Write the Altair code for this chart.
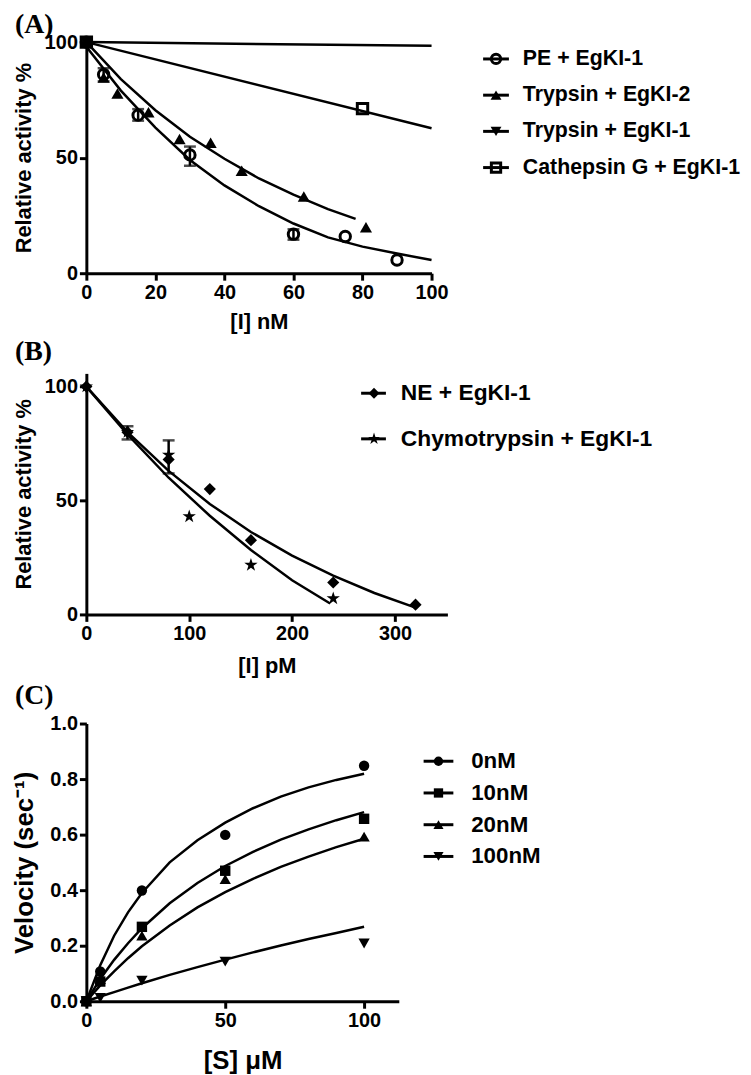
import altair as alt
import pandas as pd

SANS = "Liberation Sans"
SERIF = "Liberation Serif"
STAR = ("M0,-1L0.2245,-0.309L0.951,-0.309L0.363,0.118L0.588,0.809L0,0.382"
        "L-0.588,0.809L-0.363,0.118L-0.951,-0.309L-0.2245,-0.309Z")

# ---------------- Panel A data ----------------
A_LABELS = ["PE + EgKI-1", "Trypsin + EgKI-2", "Trypsin + EgKI-1", "Cathepsin G + EgKI-1"]
A_PE_X = [0, 5, 15, 30, 60, 75, 90]
A_PE_Y = [100, 86, 68.4, 51.2, 16.9, 15.9, 5.7]
A_T2_X = [0, 5, 9, 18, 27, 36, 45, 63, 81]
A_T2_Y = [100, 84.7, 77.8, 69.6, 58.1, 56.4, 44.3, 33.2, 19.9]
A_T1_X = [0]
A_T1_Y = [100]
A_CG_X = [0, 80]
A_CG_Y = [100, 71.2]
A_PE_FIT_X = [0, 10, 20, 30, 40, 50, 60, 70, 80, 90, 100]
A_PE_FIT_Y = [98, 79, 63, 49, 38, 29, 21.5, 15.5, 11.5, 8.5, 5.7]
A_T2_FIT_X = [0, 10, 20, 30, 40, 50, 60, 70, 78]
A_T2_FIT_Y = [100, 84, 70.5, 59, 49.5, 41, 34, 27.7, 23.5]
A_T1_FIT_X = [0, 100]
A_T1_FIT_Y = [100, 98.4]
A_CG_FIT_X = [0, 100]
A_CG_FIT_Y = [100, 62.7]
A_ERR_X = [5, 15, 30, 60]
A_ERR_LO = [83, 66, 46.5, 14.5]
A_ERR_HI = [88.7, 71, 54.8, 19]

# ---------------- Panel B data ----------------
B_LABELS = ["NE + EgKI-1", "Chymotrypsin + EgKI-1"]
B_NE_X = [0, 40, 80, 120, 160, 240, 320]
B_NE_Y = [100, 80, 68, 55, 32.6, 14, 4.3]
B_CH_X = [0, 40, 80, 100, 160, 240]
B_CH_Y = [100, 80, 70, 43, 21.7, 7]
B_NE_FIT_X = [0, 40, 80, 120, 160, 200, 240, 280, 320]
B_NE_FIT_Y = [100, 80, 63, 48.5, 36.2, 25.8, 17, 9.4, 3]
B_CH_FIT_X = [0, 40, 80, 120, 160, 200, 237]
B_CH_FIT_Y = [100, 79, 60, 43.3, 28.3, 15, 4.8]
B_ERR_X = [40, 80]
B_ERR_LO = [76.8, 61.9]
B_ERR_HI = [82.6, 76.4]

# ---------------- Panel C data ----------------
C_LABELS = ["0nM", "10nM", "20nM", "100nM"]
C_S = [0, 5, 20, 50, 100]
C_V0 = [0, 0.107, 0.399, 0.599, 0.848]
C_V10 = [0, 0.071, 0.268, 0.470, 0.657]
C_V20 = [0, 0.080, 0.236, 0.440, 0.593]
C_V100 = [0, 0.012, 0.074, 0.143, 0.208]
C_FIT_S = [0, 5, 10, 15, 20, 30, 40, 50, 60, 70, 80, 90, 100]
C_FIT0 = [0, 0.13, 0.236, 0.32, 0.39, 0.50, 0.58, 0.643, 0.695, 0.737, 0.77, 0.797, 0.819]
C_FIT10 = [0, 0.080, 0.149, 0.209, 0.263, 0.353, 0.426, 0.487, 0.538, 0.582, 0.619, 0.652, 0.681]
C_FIT20 = [0, 0.057, 0.108, 0.155, 0.198, 0.273, 0.338, 0.393, 0.441, 0.484, 0.521, 0.555, 0.585]
C_FIT100 = [0, 0.017, 0.033, 0.049, 0.065, 0.095, 0.123, 0.150, 0.176, 0.201, 0.224, 0.246, 0.268]


def axis_props(values, title, tpad, tsize, fmt=None):
    kw = dict(values=values, title=title, titlePadding=tpad, titleFontSize=tsize,
              grid=False, domainColor="black", domainWidth=3, tickColor="black",
              tickWidth=3, tickSize=7, labelFont=SANS, labelFontSize=20,
              labelFontWeight="bold", labelColor="black", labelPadding=2,
              titleFont=SANS, titleFontWeight="bold", titleColor="black",
              labelFlush=False, labelOverlap=False)
    if fmt:
        kw["format"] = fmt
    return alt.Axis(**kw)


def panel(series, err, xdom, ydom, xticks, yticks, w, h, xtitle, ytitle,
          tag, tag_dx, tag_off, xpad, ypad, xtsize, ytsize, leg, yfmt=None):
    xs = alt.Scale(domain=xdom, nice=False, zero=False)
    ys = alt.Scale(domain=ydom, nice=False, zero=False)
    xax = axis_props(xticks, xtitle, xpad, xtsize)
    yax = axis_props(yticks, ytitle, ypad, ytsize, yfmt)
    fit_df = pd.concat([pd.DataFrame({"x": s["fx"], "y": s["fy"], "s": s["label"]})
                        for s in series])
    layers = [alt.Chart(fit_df).mark_line(color="black", strokeWidth=2.5).encode(
        x=alt.X("x:Q", scale=xs, axis=xax),
        y=alt.Y("y:Q", scale=ys, axis=yax),
        detail="s:N")]
    if err is not None:
        edf = pd.DataFrame({"x": err[0], "lo": err[1], "hi": err[2]})
        layers.append(alt.Chart(edf).mark_rule(color="black", strokeWidth=2.5).encode(
            x=alt.X("x:Q", scale=xs), y=alt.Y("lo:Q", scale=ys), y2="hi:Q"))
        cdf = pd.DataFrame({"x": err[0] + err[0], "y": err[1] + err[2]})
        layers.append(alt.Chart(cdf).mark_tick(orient="horizontal", color="black",
                                               thickness=2.5, size=12).encode(
            x=alt.X("x:Q", scale=xs), y=alt.Y("y:Q", scale=ys)))
    for s in series:
        pdf = pd.DataFrame({"x": s["px"], "y": s["py"]})
        layers.append(alt.Chart(pdf).mark_point(
            shape=s["shape"], filled=s["filled"], size=s["size"], color="black",
            strokeWidth=3 if not s["filled"] else 1, opacity=1).encode(
            x=alt.X("x:Q", scale=xs), y=alt.Y("y:Q", scale=ys)))
    # legend
    for i, s in enumerate(series):
        yy = leg["y0"] + i * leg["step"]
        d = pd.DataFrame({"label": [s["label"]]})
        layers.append(alt.Chart(d).mark_rule(color="black", strokeWidth=3).encode(
            x=alt.value(leg["x0"]), x2=alt.value(leg["x1"]), y=alt.value(yy)))
        layers.append(alt.Chart(d).mark_point(
            shape=s["shape"], filled=s["filled"], size=s["size"] * 0.8, color="black",
            strokeWidth=3 if not s["filled"] else 1, opacity=1).encode(
            x=alt.value(leg["xm"]), y=alt.value(yy)))
        layers.append(alt.Chart(d).mark_text(
            align="left", baseline="middle", font=SANS, fontSize=leg["fs"],
            fontWeight="bold", color="black").encode(
            x=alt.value(leg["xt"]), y=alt.value(yy), text="label:N"))
    return alt.layer(*layers).properties(
        width=w, height=h,
        title=alt.TitleParams(text=tag, anchor="start", frame="group", dx=tag_dx,
                              offset=tag_off, font=SERIF, fontSize=28,
                              fontWeight="bold", color="black"))


seriesA = [
    dict(label=A_LABELS[0], px=A_PE_X, py=A_PE_Y, fx=A_PE_FIT_X, fy=A_PE_FIT_Y,
         shape="circle", filled=False, size=110),
    dict(label=A_LABELS[1], px=A_T2_X, py=A_T2_Y, fx=A_T2_FIT_X, fy=A_T2_FIT_Y,
         shape="triangle-up", filled=True, size=150),
    dict(label=A_LABELS[2], px=A_T1_X, py=A_T1_Y, fx=A_T1_FIT_X, fy=A_T1_FIT_Y,
         shape="triangle-down", filled=True, size=150),
    dict(label=A_LABELS[3], px=A_CG_X, py=A_CG_Y, fx=A_CG_FIT_X, fy=A_CG_FIT_Y,
         shape="square", filled=False, size=110),
]
seriesB = [
    dict(label=B_LABELS[0], px=B_NE_X, py=B_NE_Y, fx=B_NE_FIT_X, fy=B_NE_FIT_Y,
         shape="diamond", filled=True, size=150),
    dict(label=B_LABELS[1], px=B_CH_X, py=B_CH_Y, fx=B_CH_FIT_X, fy=B_CH_FIT_Y,
         shape=STAR, filled=True, size=200),
]
seriesC = [
    dict(label=C_LABELS[0], px=C_S, py=C_V0, fx=C_FIT_S, fy=C_FIT0,
         shape="circle", filled=True, size=110),
    dict(label=C_LABELS[1], px=C_S, py=C_V10, fx=C_FIT_S, fy=C_FIT10,
         shape="square", filled=True, size=110),
    dict(label=C_LABELS[2], px=C_S, py=C_V20, fx=C_FIT_S, fy=C_FIT20,
         shape="triangle-up", filled=True, size=130),
    dict(label=C_LABELS[3], px=C_S, py=C_V100, fx=C_FIT_S, fy=C_FIT100,
         shape="triangle-down", filled=True, size=130),
]

chartA = panel(seriesA, (A_ERR_X, A_ERR_LO, A_ERR_HI), [0, 100], [0, 100],
               [0, 20, 40, 60, 80, 100], [0, 50, 100], 348, 233,
               "[I] nM", "Relative activity %", "(A)", -72, -8, 10, 9, 22, 22,
               dict(y0=17, step=36.5, x0=400, x1=426, xm=413, xt=440, fs=21.5))
chartB = panel(seriesB, (B_ERR_X, B_ERR_LO, B_ERR_HI), [0, 351], [0, 105.8],
               [0, 100, 200, 300], [0, 50, 100], 364, 243,
               "[I] pM", "Relative activity %", "(B)", -72, 8, 13, 9, 22, 22,
               dict(y0=20, step=46, x0=277, x1=302, xm=290, xt=317, fs=23))
chartC = panel(seriesC, None, [0, 112.5], [0, 1], [0, 50, 100],
               [0, 0.2, 0.4, 0.6, 0.8, 1.0], 315, 280,
               "[S] μM", "Velocity (sec⁻¹)", "(C)", -72, 3.5, 18, 12, 26, 26,
               dict(y0=38, step=32, x0=340, x1=370, xm=355, xt=388, fs=22.5),
               yfmt=".1f")

chart = alt.vconcat(chartA, chartB, chartC, spacing=5).properties(
    padding={"left": 4, "top": -2, "right": 2, "bottom": 2}
).configure_view(stroke=None)

chart.save("out.html", embed_options={"renderer": "svg", "actions": False})
